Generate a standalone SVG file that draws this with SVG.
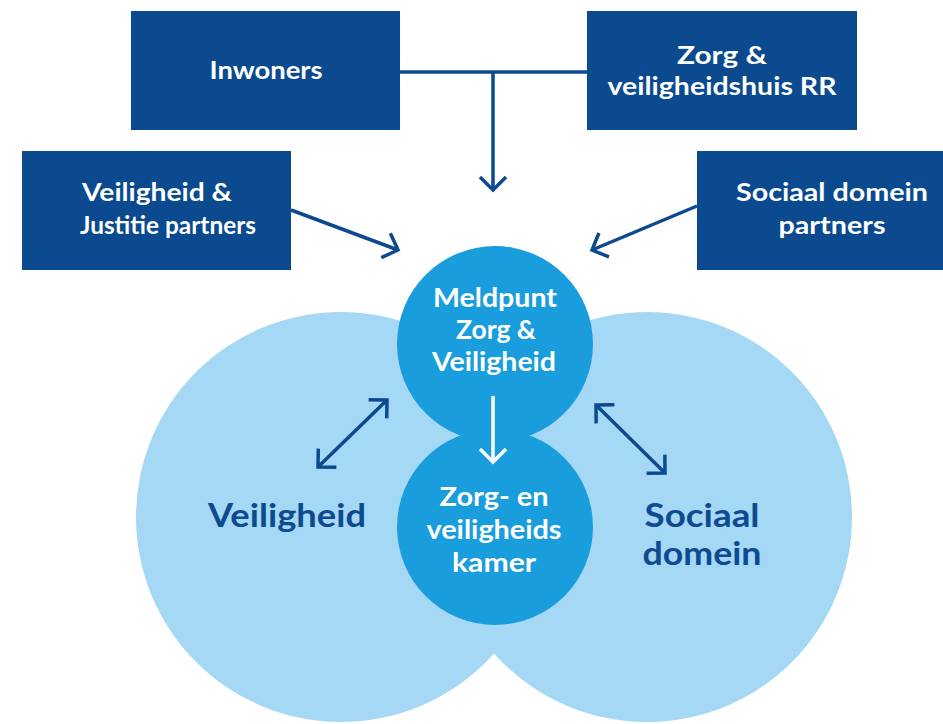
<svg xmlns="http://www.w3.org/2000/svg" width="943" height="724" viewBox="0 0 943 724">
<style>
.box{fill:#0b4a8e}
.bt{fill:#ffffff;font-family:Lato,"Liberation Sans",sans-serif;font-weight:bold;font-size:25px;text-anchor:middle}
.ct{fill:#ffffff;font-family:Lato,"Liberation Sans",sans-serif;font-weight:bold;font-size:26px;text-anchor:middle}
.lt{fill:#0d4a8f;font-family:Lato,"Liberation Sans",sans-serif;font-weight:bold;font-size:33px;text-anchor:middle}
.big{fill:#a5d8f4}
.mid{fill:#1a9ddc}
.con{stroke:#0b4a8e;stroke-width:3.5;fill:none}
.wcon{stroke:#ffffff;stroke-width:3.5;fill:none}
</style>
<defs>
<marker id="ah" viewBox="0 0 32 32" refX="28" refY="16" markerWidth="32" markerHeight="32" markerUnits="userSpaceOnUse" orient="auto-start-reverse">
<path d="M15,3 L28,16 L15,29" fill="none" stroke="#0b4a8e" stroke-width="3.5"/>
</marker>
<marker id="wh" viewBox="0 0 32 32" refX="28" refY="16" markerWidth="32" markerHeight="32" markerUnits="userSpaceOnUse" orient="auto">
<path d="M15,3 L28,16 L15,29" fill="none" stroke="#ffffff" stroke-width="3.5"/>
</marker>
</defs>
<rect width="943" height="724" fill="#ffffff"/>
<g id="veiligheid">
<circle class="big" cx="341" cy="517" r="205"/>
</g>
<g id="sociaal-domein">
<circle class="big" cx="647" cy="517" r="205"/>
</g>
<g id="meldpunt">
<circle class="mid" cx="495" cy="344" r="98"/>
</g>
<g id="kamer">
<circle class="mid" cx="495" cy="527" r="98"/>
</g>
<g id="inwoners">
<rect class="box" x="131" y="11" width="269" height="119"/>
<text class="bt" x="266" y="79" textLength="113" lengthAdjust="spacingAndGlyphs">Inwoners</text>
</g>
<g id="zvh">
<rect class="box" x="587" y="11" width="270" height="119"/>
<text class="bt" x="722" y="64" textLength="90" lengthAdjust="spacingAndGlyphs">Zorg &amp;</text>
<text class="bt" x="722" y="95" textLength="229" lengthAdjust="spacingAndGlyphs">veiligheidshuis RR</text>
</g>
<g id="vj-partners">
<rect class="box" x="22" y="151" width="269" height="119"/>
<text class="bt" x="157" y="201" textLength="150" lengthAdjust="spacingAndGlyphs">Veiligheid &amp;</text>
<text class="bt" x="168" y="234" textLength="176" lengthAdjust="spacingAndGlyphs">Justitie partners</text>
</g>
<g id="sd-partners">
<rect class="box" x="697" y="151" width="246" height="119"/>
<text class="bt" x="832" y="201" textLength="192" lengthAdjust="spacingAndGlyphs">Sociaal domein</text>
<text class="bt" x="832" y="234" textLength="107" lengthAdjust="spacingAndGlyphs">partners</text>
</g>
<g id="connectors">
<path class="con" d="M400,72 H587"/>
<path class="con" d="M493,72 V190" marker-end="url(#ah)"/>
<path class="con" d="M291,210 L398,250" marker-end="url(#ah)"/>
<path class="con" d="M697,206 L592,250" marker-end="url(#ah)"/>
<path class="con" d="M318,467 L387,400" marker-start="url(#ah)" marker-end="url(#ah)"/>
<path class="con" d="M596,405 L665,473" marker-start="url(#ah)" marker-end="url(#ah)"/>
<path class="wcon" d="M493,396 V462" marker-end="url(#wh)"/>
</g>
<g id="labels">
<text class="ct" x="495" y="307" textLength="124" lengthAdjust="spacingAndGlyphs">Meldpunt</text>
<text class="ct" x="496" y="339" textLength="80" lengthAdjust="spacingAndGlyphs">Zorg &amp;</text>
<text class="ct" x="494" y="371" textLength="124" lengthAdjust="spacingAndGlyphs">Veiligheid</text>
<text class="ct" x="494" y="506" textLength="109" lengthAdjust="spacingAndGlyphs">Zorg- en</text>
<text class="ct" x="494" y="539" textLength="135" lengthAdjust="spacingAndGlyphs">veiligheids</text>
<text class="ct" x="494" y="572" textLength="84" lengthAdjust="spacingAndGlyphs">kamer</text>
<text class="lt" x="287" y="527" textLength="158" lengthAdjust="spacingAndGlyphs">Veiligheid</text>
<text class="lt" x="702" y="527" textLength="115" lengthAdjust="spacingAndGlyphs">Sociaal</text>
<text class="lt" x="702" y="565" textLength="119" lengthAdjust="spacingAndGlyphs">domein</text>
</g>
</svg>
